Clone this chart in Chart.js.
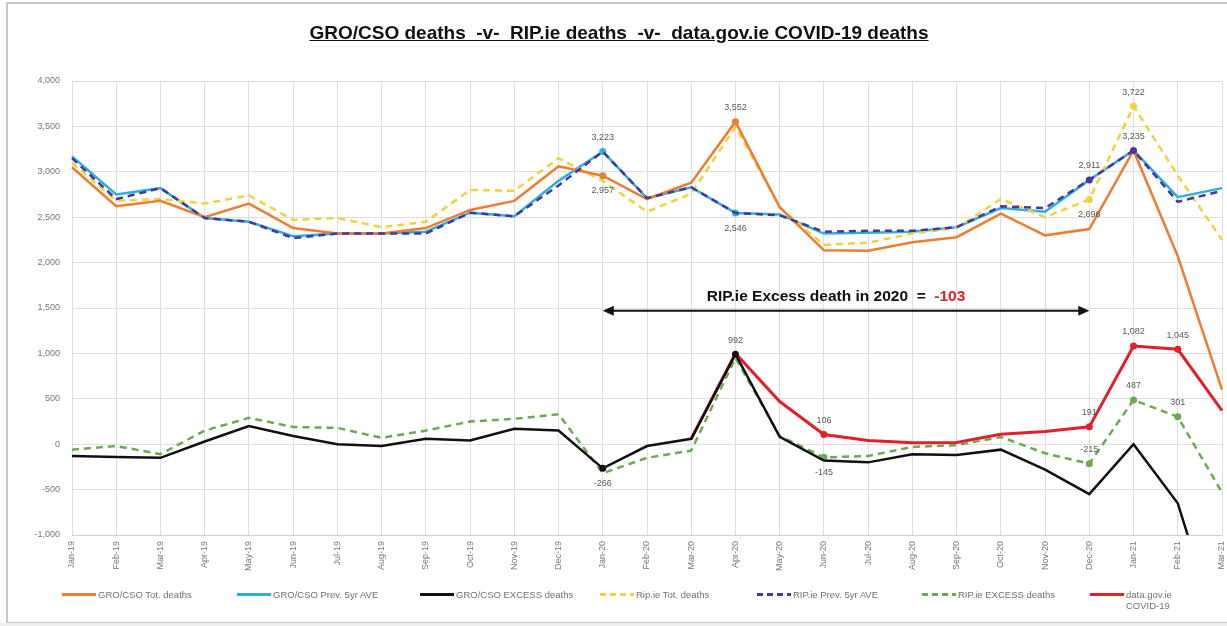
<!DOCTYPE html>
<html>
<head>
<meta charset="utf-8">
<script src="https://cdn.jsdelivr.net/npm/chart.js@4"></script>
<style>
    body { margin: 0; background: #fff; font-family: "Liberation Sans", Arial, sans-serif; }
    #wrap { position: relative; width: 1227px; height: 626px; overflow: hidden; }
    #frame { position: absolute; left: 6px; top: 2px; width: 1240px; height: 618px; border: 2px solid #c8c8c8; }
    #under { position: absolute; left: 0; top: 623px; width: 1227px; height: 3px; background: #eee; }
    #title { position: absolute; top: 22px; left: 0; width: 1238px; text-align: center; font-weight: bold; font-size: 19px; text-decoration: underline; white-space: pre; color: #111; }
    #chart { position: absolute; left: 0; top: 0; }
    .lg { position: absolute; top: 589px; display: flex; align-items: flex-start; font-size: 9.5px; color: #707070; }
    .lg .s { width: 34px; height: 3px; margin-top: 4px; margin-right: 2px; }
    .lg .dash { background: repeating-linear-gradient(90deg, var(--c) 0 6px, transparent 6px 10px); }
</style>
</head>
<body>
<div id="wrap">
    <div id="frame"></div>
    <div id="under"></div>
    <canvas id="chart" width="1227" height="626"></canvas>
    <div id="title">GRO/CSO deaths  -v-  RIP.ie deaths  -v-  data.gov.ie COVID-19 deaths</div>
    <div id="legend"></div>
</div>
<script>
const months = ['Jan-19', 'Feb-19', 'Mar-19', 'Apr-19', 'May-19', 'Jun-19', 'Jul-19', 'Aug-19', 'Sep-19',
    'Oct-19', 'Nov-19', 'Dec-19', 'Jan-20', 'Feb-20', 'Mar-20', 'Apr-20', 'May-20', 'Jun-20', 'Jul-20',
    'Aug-20', 'Sep-20', 'Oct-20', 'Nov-20', 'Dec-20', 'Jan-21', 'Feb-21', 'Mar-21'];

const groTotal = [3050, 2620, 2680, 2500, 2650, 2380, 2320, 2320, 2380, 2580, 2680, 3060, 2957, 2700,
    2880, 3552, 2610, 2135, 2130, 2225, 2280, 2540, 2300, 2370, 3235, 2070, 600];
const groPrev = [3170, 2750, 2820, 2490, 2450, 2290, 2320, 2320, 2340, 2550, 2510, 2900, 3223, 2710,
    2830, 2546, 2530, 2320, 2330, 2340, 2390, 2600, 2560, 2911, 3235, 2720, 2820];
const groExcess = [-130, -140, -150, 30, 200, 90, 0, -20, 60, 40, 170, 150, -266, -20,
    60, 992, 80, -180, -200, -110, -120, -60, -280, -550, 0, -650, -2220];
const ripTotal = [3100, 2680, 2700, 2650, 2740, 2470, 2490, 2390, 2450, 2800, 2790, 3150, 2900, 2560,
    2760, 3496, 2610, 2195, 2220, 2320, 2380, 2700, 2500, 2696, 3722, 2960, 2250];
const ripPrev = [3150, 2700, 2820, 2490, 2450, 2270, 2320, 2320, 2320, 2550, 2510, 2850, 3223, 2710,
    2830, 2546, 2520, 2340, 2350, 2350, 2390, 2620, 2600, 2911, 3235, 2670, 2790];
const ripExcess = [-60, -20, -110, 150, 290, 190, 180, 70, 150, 250, 280, 330, -320, -150,
    -70, 950, 90, -145, -130, -30, -10, 80, -100, -215, 487, 301, -530];
const covid = [null, null, null, null, null, null, null, null, null, null, null, null, null, null,
    60, 1000, 470, 106, 40, 15, 20, 110, 140, 191, 1082, 1045, 370];

const yTicks = [-1000, -500, 0, 500, 1000, 1500, 2000, 2500, 3000, 3500, 4000];

// [dataset, month index, side]
const labelPoints = [
    [0, 12, 'below'], [0, 15, 'above'],
    [1, 12, 'above'], [1, 15, 'below'],
    [2, 12, 'below'], [2, 15, 'above'],
    [3, 23, 'below'], [3, 24, 'above'],
    [4, 23, 'above'], [4, 24, 'above'],
    [5, 17, 'below'], [5, 23, 'above'], [5, 24, 'above'], [5, 25, 'above'],
    [6, 17, 'above'], [6, 23, 'above'], [6, 24, 'above'], [6, 25, 'above']
];

const excessNote = 'RIP.ie Excess death in 2020  =  ';
const excessValue = '-103';
const arrowFrom = 'Jan-20', arrowTo = 'Dec-20', arrowLevel = 1470;

const series = [
    { label: 'GRO/CSO Tot. deaths', data: groTotal, color: '#ED7D31', dash: [], order: 2 },
    { label: 'GRO/CSO Prev. 5yr AVE', data: groPrev, color: '#2FAEE0', dash: [], order: 7 },
    { label: 'GRO/CSO EXCESS deaths', data: groExcess, color: '#111111', dash: [], order: 3 },
    { label: 'Rip.ie Tot. deaths', data: ripTotal, color: '#F0D23C', dash: [7, 5], order: 6 },
    { label: 'RIP.ie Prev. 5yr AVE', data: ripPrev, color: '#45389A', dash: [7, 5], order: 1 },
    { label: 'RIP.ie EXCESS deaths', data: ripExcess, color: '#6FA852', dash: [7, 5], order: 4 },
    { label: 'data.gov.ie COVID-19', data: covid, color: '#E0202A', dash: [], order: 5, width: 3 }
];

function markerRadius(di) {
    return months.map((m, i) => labelPoints.some(p => p[0] === di && p[1] === i) ? 3.5 : 0);
}

const datasets = series.map((s, di) => ({
    label: s.label,
    data: s.data,
    borderColor: s.color,
    backgroundColor: s.color,
    borderWidth: s.width || 2.5,
    borderDash: s.dash,
    pointRadius: markerRadius(di),
    pointBorderWidth: 0,
    tension: 0,
    order: s.order,
    spanGaps: false
}));

const fmt = v => v.toLocaleString('en-US');

const notesPlugin = {
    id: 'notes',
    afterDatasetsDraw(chart) {
        const ctx = chart.ctx;
        const x = chart.scales.x, y = chart.scales.y;
        ctx.save();

        // point labels
        ctx.font = '9px "Liberation Sans", Arial';
        ctx.fillStyle = '#595959';
        ctx.textAlign = 'center';
        ctx.textBaseline = 'middle';
        labelPoints.forEach(([di, i, side]) => {
            const v = chart.data.datasets[di].data[i];
            const px = x.getPixelForValue(i), py = y.getPixelForValue(v);
            ctx.fillText(fmt(v), px, side === 'above' ? py - 14 : py + 15);
        });

        // arrow
        const x1 = x.getPixelForValue(months.indexOf(arrowFrom));
        const x2 = x.getPixelForValue(months.indexOf(arrowTo));
        const ay = y.getPixelForValue(arrowLevel);
        ctx.strokeStyle = '#111';
        ctx.fillStyle = '#111';
        ctx.lineWidth = 2;
        ctx.beginPath();
        ctx.moveTo(x1 + 8, ay);
        ctx.lineTo(x2 - 8, ay);
        ctx.stroke();
        [[x1, 1], [x2, -1]].forEach(([hx, dir]) => {
            ctx.beginPath();
            ctx.moveTo(hx, ay);
            ctx.lineTo(hx + dir * 11, ay - 5);
            ctx.lineTo(hx + dir * 11, ay + 5);
            ctx.closePath();
            ctx.fill();
        });

        // note text
        ctx.font = 'bold 15.5px "Liberation Sans", Arial';
        const w1 = ctx.measureText(excessNote).width;
        const w2 = ctx.measureText(excessValue).width;
        const sx = (x1 + x2) / 2 - 10 - (w1 + w2) / 2;
        ctx.textAlign = 'left';
        ctx.fillStyle = '#111';
        ctx.fillText(excessNote, sx, ay - 14);
        ctx.fillStyle = '#E0202A';
        ctx.fillText(excessValue, sx + w1, ay - 14);
        ctx.restore();
    }
};

new Chart(document.getElementById('chart'), {
    type: 'line',
    data: { labels: months, datasets },
    plugins: [notesPlugin],
    options: {
        responsive: false,
        animation: false,
        layout: { padding: { left: 10, top: 81, right: 5, bottom: 46 } },
        plugins: { legend: { display: false }, tooltip: { enabled: false } },
        scales: {
            x: {
                offset: false,
                grid: { color: '#dedede', drawTicks: false },
                border: { color: '#d0d0d0' },
                ticks: { color: '#777', font: { size: 9 }, maxRotation: 90, minRotation: 90, padding: 6, autoSkip: false },
                afterFit: s => { s.height = 45; s.paddingLeft = 0; s.paddingRight = 0; }
            },
            y: {
                min: -1000,
                max: 4000,
                afterBuildTicks: s => { s.ticks = yTicks.map(v => ({ value: v })); },
                grid: { color: '#dedede', drawTicks: false },
                border: { display: false },
                ticks: { color: '#777', font: { size: 9 }, padding: 12, callback: v => fmt(v) },
                afterFit: s => { s.width = 62; }
            }
        }
    }
});

// legend
const legendLeft = [62, 237, 420, 600, 757, 922, 1090];
const legend = document.getElementById('legend');
series.forEach((s, i) => {
    const item = document.createElement('div');
    item.className = 'lg';
    item.style.left = legendLeft[i] + 'px';
    const sw = document.createElement('div');
    sw.className = 's' + (s.dash.length ? ' dash' : '');
    sw.style.setProperty('--c', s.color);
    if (!s.dash.length) sw.style.background = s.color;
    const tx = document.createElement('div');
    tx.textContent = s.label;
    if (i === 6) tx.style.width = '60px';
    item.append(sw, tx);
    legend.appendChild(item);
});
</script>
</body>
</html>
